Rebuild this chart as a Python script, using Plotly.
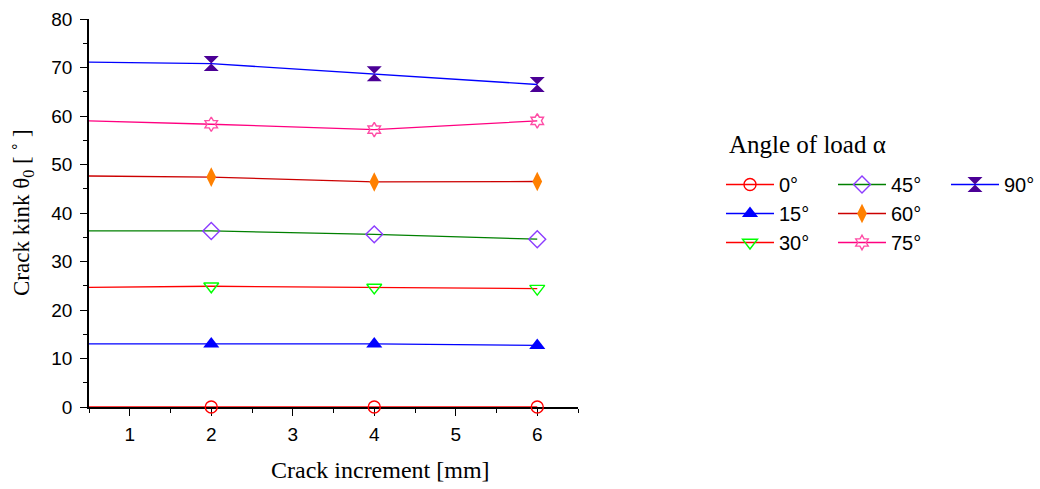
import plotly.graph_objects as go

# ---- data ----
crack_increment = [0, 2, 4, 6]          # mm (point at 0 lies left of the visible axis range)
theta_0 = [0.0, 0.0, 0.0, 0.0]
theta_15 = [13.0, 13.0, 13.0, 12.7]
theta_30 = [24.6, 24.9, 24.65, 24.4]
theta_45 = [36.3, 36.3, 35.6, 34.6]
theta_60 = [47.7, 47.4, 46.4, 46.5]
theta_75 = [59.2, 58.3, 57.2, 59.0]
theta_90 = [71.2, 70.8, 68.7, 66.5]

series_names = ["0°", "15°", "30°", "45°", "60°", "75°", "90°"]
series_values = [theta_0, theta_15, theta_30, theta_45, theta_60, theta_75, theta_90]
x_ticks = [1, 2, 3, 4, 5, 6]

# ---- styles ----
styles = [
    dict(line="#ff0000", mcolor="#ff0000", symbol="circle-open", size=12, legend="legend"),
    dict(line="#0000ff", mcolor="#0000ff", symbol="triangle-up", size=14, legend="legend"),
    dict(line="#ff0000", mcolor="#00ff00", symbol="triangle-down-open", size=13, legend="legend"),
    dict(line="#008000", mcolor="#8c3cff", symbol="diamond-open", size=13, legend="legend2"),
    dict(line="#cc0000", mcolor="#ff8000", symbol="diamond-tall", size=14, legend="legend2"),
    dict(line="#ff0080", mcolor="#ff4da6", symbol="hexagram-open", size=11, legend="legend2"),
    dict(line="#0000ff", mcolor="#4b0096", symbol="hourglass", size=15, legend="legend3"),
]

W, H = 1040, 489
L, R, T, B = 89, 578, 19, 407  # plot-area pixel box

fig = go.Figure()
for name, vals, st in zip(series_names, series_values, styles):
    xs = crack_increment[::-1]
    ys = vals[::-1]
    # hide marker at x=0 (outside the visible range), keep first point visible for legend
    colors = [st["mcolor"] if x > 0 else "rgba(0,0,0,0)" for x in xs]
    is_open = st["symbol"].endswith("open")
    fig.add_trace(go.Scatter(
        x=xs, y=ys, name=name, mode="lines+markers",
        line=dict(color=st["line"], width=1.3),
        marker=dict(symbol=st["symbol"], size=st["size"], color=colors,
                    line=dict(color=colors, width=1.4 if is_open else 0)),
        cliponaxis=False,
        legend=st["legend"],
    ))

tick_font = dict(family="Liberation Sans, Arial, sans-serif", size=19, color="black")
serif = "Liberation Serif, Times New Roman, serif"

fig.update_layout(
    width=W, height=H, autosize=False,
    margin=dict(l=L, r=W - R, t=T, b=H - B, pad=0, autoexpand=False),
    paper_bgcolor="white", plot_bgcolor="white",
    showlegend=True,
    xaxis=dict(
        range=[0.5, 6.5], tickmode="array", tickvals=x_ticks,
        ticks="outside", ticklen=7, tickwidth=1.2, tickcolor="black",
        minor=dict(tickmode="linear", tick0=0.5, dtick=0.5, ticks="outside", ticklen=4, tickwidth=1.2, tickcolor="black"),
        showline=True, linecolor="black", linewidth=1.5,
        showgrid=False, zeroline=False, tickfont=tick_font, layer="below traces",
        ticklabelstandoff=2, automargin=False,
    ),
    yaxis=dict(
        range=[0, 80], tickmode="linear", tick0=0, dtick=10,
        ticks="outside", ticklen=7, tickwidth=1.2, tickcolor="black",
        minor=dict(tickmode="linear", tick0=0, dtick=5, ticks="outside", ticklen=4, tickwidth=1.2, tickcolor="black"),
        showline=True, linecolor="black", linewidth=1.5,
        showgrid=False, zeroline=False, tickfont=tick_font, layer="below traces",
        ticklabelstandoff=4, automargin=False,
    ),
)

legend_common = dict(
    orientation="v", xref="container", yref="container",
    xanchor="left", yanchor="top",
    font=dict(family="Liberation Sans, Arial, sans-serif", size=20, color="black"),
    bgcolor="rgba(0,0,0,0)", borderwidth=0, itemwidth=48,
    traceorder="normal", tracegroupgap=0,
)
leg_top = 1 - 165 / H
fig.update_layout(
    legend=dict(x=721 / W, y=leg_top, **legend_common),
    legend2=dict(x=833 / W, y=leg_top, **legend_common),
    legend3=dict(x=946 / W, y=leg_top, **legend_common),
)

pw, ph = R - L, B - T
fig.add_annotation(
    text="Angle of load α", xref="paper", yref="paper",
    x=(727 - L) / pw, y=(B - 144) / ph, xanchor="left", yanchor="middle",
    showarrow=False, font=dict(family=serif, size=25, color="black"),
)
fig.add_annotation(
    text="Crack increment [mm]", xref="paper", yref="paper",
    x=(380 - L) / pw, y=(B - 470) / ph, xanchor="center", yanchor="middle",
    showarrow=False, font=dict(family=serif, size=24, color="black"),
)
fig.add_annotation(
    text="Crack kink θ<sub>0</sub> [ ˚ ]", xref="paper", yref="paper",
    x=(23 - L) / pw, y=(B - 213) / ph, xanchor="center", yanchor="middle",
    textangle=-90, showarrow=False, font=dict(family=serif, size=23, color="black"),
)

fig.write_html("out.html", config={"displayModeBar": False},
               post_script="document.body.style.margin='0px';")
